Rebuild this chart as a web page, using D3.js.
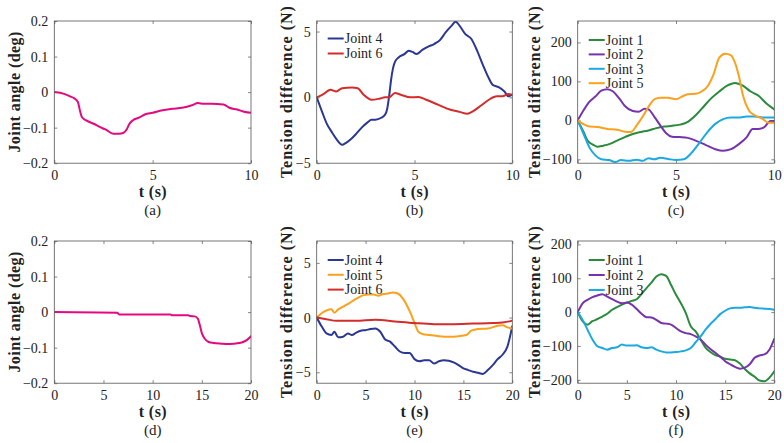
<!DOCTYPE html>
<html>
<head>
<meta charset="utf-8">
<script src="https://cdn.jsdelivr.net/npm/d3@7"></script>
<style>
  html, body { margin: 0; padding: 0; background: #fff; }
  svg { display: block; }
</style>
</head>
<body>
<svg id="chart" width="784" height="443"></svg>
<script>
// ---------------- DATA ----------------
// Panel (a): joint angle, 0-10 s
const aT     = [0,0.5,0.8,1.0,1.2,1.3,1.4,1.6,2.0,2.3,2.6,3.0,3.3,3.5,3.7,3.8,4.0,4.3,4.6,5.0,5.5,6.0,6.5,7.0,7.3,7.6,8.0,8.6,8.9,9.3,9.7,10];
const aAngle = [0,-0.005,-0.012,-0.017,-0.028,-0.051,-0.07,-0.079,-0.089,-0.098,-0.105,-0.117,-0.117,-0.115,-0.103,-0.091,-0.079,-0.072,-0.063,-0.058,-0.051,-0.047,-0.044,-0.037,-0.031,-0.033,-0.033,-0.035,-0.044,-0.049,-0.056,-0.058];

// Panel (b): tension difference, joints 4 and 6
const bJ4T = [0,0.3,0.5,0.8,1.0,1.3,1.5,1.8,2.0,2.3,2.6,2.8,3.0,3.3,3.5,3.6,3.7,3.8,3.9,4.0,4.2,4.5,4.7,4.9,5.1,5.4,5.7,6.0,6.3,6.6,6.9,7.1,7.3,7.6,7.9,8.2,8.5,8.8,9.0,9.3,9.6,9.8,10];
const bJ4  = [0,-1.2,-1.95,-2.7,-3.15,-3.6,-3.45,-3.1,-2.8,-2.3,-1.9,-1.7,-1.7,-1.55,-1.3,-0.9,0.05,1.3,2.2,2.7,3.05,3.3,3.55,3.45,3.3,3.6,3.85,4.05,4.35,4.95,5.45,5.75,5.45,4.8,4.45,3.55,2.45,1.45,0.95,0.78,0.45,0.08,0.2];
const bJ6T = [0,0.3,0.7,1.0,1.3,1.8,2.1,2.4,2.8,3.2,3.5,3.7,4.0,4.3,4.8,5.2,5.6,6.2,6.8,7.3,7.7,8.0,8.4,8.8,9.2,9.5,9.8,10];
const bJ6  = [0,0.2,0.58,0.45,0.7,0.75,0.7,0.2,-0.18,-0.1,0,0,0.33,0.2,0,0.03,-0.18,-0.55,-0.92,-1.1,-1.25,-1.05,-0.62,-0.18,0.08,0.08,0.25,0.2];

// Panel (c): tension difference, joints 1, 2, 3, 5
const cJ1T = [0,0.3,0.5,0.8,1.0,1.3,1.6,2.0,2.4,2.8,3.2,3.6,4.0,4.4,4.8,5.2,5.6,6.0,6.4,6.8,7.2,7.6,8.0,8.4,8.8,9.2,9.6,10];
const cJ1  = [0,-30,-52,-63,-68,-65,-61,-52,-43,-35,-30,-26,-20,-16,-14,-11,-4,13,35,57,74,89,96,89,74,63,43,28];
const cJ2T = [0,0.3,0.6,0.9,1.2,1.5,1.8,2.1,2.4,2.8,3.1,3.4,3.6,3.9,4.2,4.5,4.8,5.2,5.6,6.0,6.5,7.0,7.4,7.8,8.2,8.6,8.9,9.2,9.5,9.8,10];
const cJ2  = [0,26,48,61,76,80,74,57,37,24,22,30,28,9,-13,-33,-42,-43,-45,-52,-63,-74,-78,-74,-61,-43,-22,-22,-17,-2,-2];
const cJ3T = [0,0.3,0.6,0.9,1.2,1.6,1.9,2.2,2.6,3.0,3.3,3.6,3.9,4.2,4.6,5.0,5.4,5.8,6.2,6.6,7.0,7.4,7.8,8.2,8.6,9.0,9.5,10];
const cJ3  = [0,-35,-70,-90,-100,-102,-107,-102,-104,-101,-104,-97,-100,-96,-99,-102,-100,-83,-57,-30,-9,3,7,7,10,10,7,7];
const cJ5T = [0,0.3,0.6,1.0,1.5,2.0,2.4,2.7,3.0,3.3,3.6,3.9,4.2,4.6,5.0,5.3,5.6,6.0,6.3,6.6,6.9,7.2,7.5,7.8,8.0,8.2,8.4,8.7,9.0,9.4,9.7,10];
const cJ5  = [0,-10,-16,-17,-22,-24,-29,-30,-13,9,35,54,58,58,54,61,67,68,74,87,117,161,171,167,148,113,65,26,13,4,-6,-6];

// Panel (d): joint angle, 0-20 s
const dT     = [0,6.4,6.6,11.8,12.0,13.6,13.8,14.3,14.6,14.8,15.0,15.3,15.7,16.2,17.0,17.6,18.2,18.8,19.2,19.6,20];
const dAngle = [0,-0.002,-0.0065,-0.0065,-0.009,-0.009,-0.011,-0.012,-0.019,-0.037,-0.059,-0.075,-0.084,-0.087,-0.089,-0.09,-0.089,-0.087,-0.084,-0.078,-0.068];

// Panel (e): tension difference, joints 4, 5, 6
const eJ4T = [0,0.5,1.0,1.5,1.8,2.2,2.7,3.2,3.6,4.0,4.5,5.0,5.5,6.0,6.5,7.0,7.5,8.0,8.5,9.0,9.5,10,10.5,11,11.5,12,12.5,13,13.5,14,14.5,15,15.5,16,16.5,17,17.5,18,18.5,19,19.5,20];
const eJ4  = [0,-0.8,-1.45,-1.6,-1.3,-1.8,-1.75,-1.45,-1.6,-1.4,-1.2,-1.15,-1.05,-1.0,-1.3,-2.0,-2.2,-2.65,-3.1,-3.25,-3.25,-3.8,-4.0,-3.9,-3.9,-4.2,-4.0,-3.9,-3.95,-4.1,-4.35,-4.65,-4.8,-4.95,-5.05,-5.15,-4.8,-4.35,-3.8,-3.4,-2.65,-0.8];
const eJ5T = [0,0.5,1.0,1.5,1.8,2.2,2.8,3.3,3.8,4.3,4.8,5.3,5.8,6.3,6.8,7.3,7.8,8.3,8.8,9.2,9.6,10,10.4,10.8,11.5,12.5,13.5,14.5,15.3,15.8,16.5,17.5,18.5,19,19.5,20];
const eJ5  = [0,0.4,0.65,0.75,0.45,0.75,1.05,1.3,1.6,1.85,2.05,2.1,2.1,2.0,2.15,2.2,2.3,2.2,1.75,1.15,0.4,-0.5,-1.3,-1.5,-1.6,-1.7,-1.75,-1.7,-1.6,-1.2,-1.05,-1.0,-0.75,-0.7,-0.9,-1.0];
const eJ6T = [0,1,2,4,6,8,10,12,14,16,18,19,19.7,20];
const eJ6  = [0,-0.15,-0.3,-0.3,-0.2,-0.35,-0.5,-0.6,-0.6,-0.55,-0.5,-0.45,-0.35,-0.28];

// Panel (f): tension difference, joints 1, 2, 3
const fT  = [0,0.5,1,1.5,2,2.5,3,3.5,4,4.5,5,5.5,6,6.5,7,7.5,8,8.5,9,9.5,10,10.5,11,11.5,12,12.5,13,13.5,14,14.5,15,15.5,16,16.5,17,17.5,18,18.5,19,19.5,20];
const fJ1 = [0,-27,-37,-27,-21,-13,-5,7,15,22,28,33,38,54,71,87,105,112,107,80,51,26,-3,-42,-57,-81,-105,-118,-127,-132,-138,-140,-142,-152,-168,-181,-191,-202,-204,-194,-175];
const fJ2 = [0,26,36,44,49,53,46,38,31,26,28,22,9,-5,-15,-16,-23,-32,-34,-37,-47,-57,-62,-65,-72,-81,-96,-109,-120,-132,-145,-154,-162,-167,-164,-154,-135,-128,-125,-111,-79];
const fJ3 = [0,-23,-52,-81,-101,-106,-111,-106,-104,-96,-99,-99,-98,-104,-106,-104,-111,-116,-119,-119,-118,-116,-113,-106,-89,-72,-52,-35,-21,-6,4,11,13,13,14,15,13,11,10,9,7];

// Tick values
const xTicks10 = [0,5,10];
const xTicks20 = [0,5,10,15,20];
const yTicksAngle = [-0.2,-0.1,0,0.1,0.2];
const yTicksSmall = [-5,0,5];
const yTicksC = [-100,0,100,200];
const yTicksF = [-200,-100,0,100,200];

// Colors
const C = {
  pink: "#e5097f", blue: "#2b3795", red: "#d42b2b", green: "#2a8b3d",
  purple: "#7733ad", cyan: "#1ba9e2", orange: "#fba11d"
};

// ---------------- DRAW ----------------
const FONT = "font-family:'Liberation Serif',serif;";
const svg = d3.select("#chart");
const fmt = v => {
  let s = (Math.abs(v) < 1e-9) ? "0" : String(+v.toFixed(3));
  return s.replace("-", "\u2212");
};

const colX = [[54.3, 251], [316.7, 512.3], [577.7, 774.3]];
const rowY = [[21, 163.2], [241, 383.2]];
const yLabelX = [15, 286.5, 535];

const panels = [
  { col:0, row:0, xd:[0,10], yd:[-0.2,0.2], xt:xTicks10, yt:yTicksAngle, yl:"Joint angle (deg)", yLen:121, tag:"(a)",
    series:[{t:aT, v:aAngle, c:C.pink}], legend:null },
  { col:1, row:0, xd:[0,10], yd:[-5,5.8], xt:xTicks10, yt:yTicksSmall, yl:"Tension difference (N)", yLen:172, tag:"(b)",
    series:[{t:bJ4T, v:bJ4, c:C.blue, n:"Joint 4"}, {t:bJ6T, v:bJ6, c:C.red, n:"Joint 6"}], legend:{y0:38.5, dy:15} },
  { col:2, row:0, xd:[0,10], yd:[-110,255], xt:xTicks10, yt:yTicksC, yl:"Tension difference (N)", yLen:172, tag:"(c)",
    series:[{t:cJ1T, v:cJ1, c:C.green, n:"Joint 1"}, {t:cJ2T, v:cJ2, c:C.purple, n:"Joint 2"},
            {t:cJ3T, v:cJ3, c:C.cyan, n:"Joint 3"}, {t:cJ5T, v:cJ5, c:C.orange, n:"Joint 5"}], legend:{y0:40, dy:14.4} },
  { col:0, row:1, xd:[0,20], yd:[-0.2,0.2], xt:xTicks20, yt:yTicksAngle, yl:"Joint angle (deg)", yLen:121, tag:"(d)",
    series:[{t:dT, v:dAngle, c:C.pink}], legend:null },
  { col:1, row:1, xd:[0,20], yd:[-6,7], xt:xTicks20, yt:yTicksSmall, yl:"Tension difference (N)", yLen:172, tag:"(e)",
    series:[{t:eJ4T, v:eJ4, c:C.blue, n:"Joint 4"}, {t:eJ5T, v:eJ5, c:C.orange, n:"Joint 5"}, {t:eJ6T, v:eJ6, c:C.red, n:"Joint 6"}], legend:{y0:260, dy:14.8} },
  { col:2, row:1, xd:[0,20], yd:[-210,210], xt:xTicks20, yt:yTicksF, yl:"Tension difference (N)", yLen:172, tag:"(f)",
    series:[{t:fT, v:fJ1, c:C.green, n:"Joint 1"}, {t:fT, v:fJ2, c:C.purple, n:"Joint 2"}, {t:fT, v:fJ3, c:C.cyan, n:"Joint 3"}], legend:{y0:260, dy:15} }
];

const defs = svg.append("defs");

panels.forEach((p, i) => {
  const [x0, x1] = colX[p.col];
  const [y0, y1] = rowY[p.row];
  const x = d3.scaleLinear().domain(p.xd).range([x0, x1]);
  const y = d3.scaleLinear().domain(p.yd).range([y1, y0]);
  const g = svg.append("g");

  defs.append("clipPath").attr("id", "clip" + i)
    .append("rect").attr("x", x0).attr("y", y0).attr("width", x1 - x0).attr("height", y1 - y0);

  const tickStyle = sel => {
    sel.attr("font-family", null).attr("font-size", null);
    sel.select(".domain").remove();
    sel.selectAll(".tick line").attr("stroke", "#555").attr("stroke-width", 0.7);
    sel.selectAll(".tick text").attr("style", FONT + "font-size:14px;fill:#222");
  };
  g.append("g").attr("transform", `translate(0,${y1})`)
    .call(d3.axisBottom(x).tickValues(p.xt).tickFormat(fmt).tickSizeInner(-3).tickPadding(7))
    .call(tickStyle);
  g.append("g").attr("transform", `translate(0,${y0})`)
    .call(d3.axisTop(x).tickValues(p.xt).tickFormat("").tickSizeInner(-3))
    .call(tickStyle);
  g.append("g").attr("transform", `translate(${x0},0)`)
    .call(d3.axisLeft(y).tickValues(p.yt).tickFormat(fmt).tickSizeInner(-3).tickPadding(6))
    .call(tickStyle);
  g.append("g").attr("transform", `translate(${x1},0)`)
    .call(d3.axisRight(y).tickValues(p.yt).tickFormat("").tickSizeInner(-3))
    .call(tickStyle);

  const lineGen = d3.line().x(d => x(d[0])).y(d => y(d[1])).curve(d3.curveMonotoneX);
  const lg = g.append("g").attr("clip-path", `url(#clip${i})`);
  p.series.forEach(s => {
    const pts = s.t.map((t, k) => [t, s.v[k]]);
    lg.append("path").attr("d", lineGen(pts)).attr("fill", "none")
      .attr("stroke", s.c).attr("stroke-width", 2).attr("stroke-linejoin", "round").attr("stroke-linecap", "round");
  });

  g.append("rect").attr("x", x0).attr("y", y0).attr("width", x1 - x0).attr("height", y1 - y0)
    .attr("fill", "none").attr("stroke", "#555").attr("stroke-width", 0.8);

  if (p.legend) {
    p.series.forEach((s, k) => {
      const ly = p.legend.y0 + k * p.legend.dy;
      g.append("line").attr("x1", x0 + 11).attr("x2", x0 + 27).attr("y1", ly).attr("y2", ly)
        .attr("stroke", s.c).attr("stroke-width", 2);
      g.append("text").attr("x", x0 + 28).attr("y", ly).attr("dy", "0.34em")
        .attr("style", FONT + "font-size:14px;fill:#222").text(s.n);
    });
  }

  g.append("text").attr("x", (x0 + x1) / 2).attr("y", y1 + 34)
    .attr("text-anchor", "middle").attr("style", FONT + "font-size:16px;font-weight:bold;fill:#222")
    .attr("textLength", 28).attr("lengthAdjust", "spacing").text("t (s)");
  g.append("text").attr("x", (x0 + x1) / 2).attr("y", y1 + 52)
    .attr("text-anchor", "middle").attr("style", FONT + "font-size:15px;fill:#222").text(p.tag);
  const yc = (y0 + y1) / 2;
  g.append("text").attr("transform", `translate(${yLabelX[p.col]},${yc}) rotate(-90)`)
    .attr("text-anchor", "middle").attr("dy", "0.32em").attr("style", FONT + "font-size:16px;font-weight:bold;fill:#222")
    .attr("textLength", p.yLen).attr("lengthAdjust", "spacing").text(p.yl);
});
</script>
</body>
</html>
